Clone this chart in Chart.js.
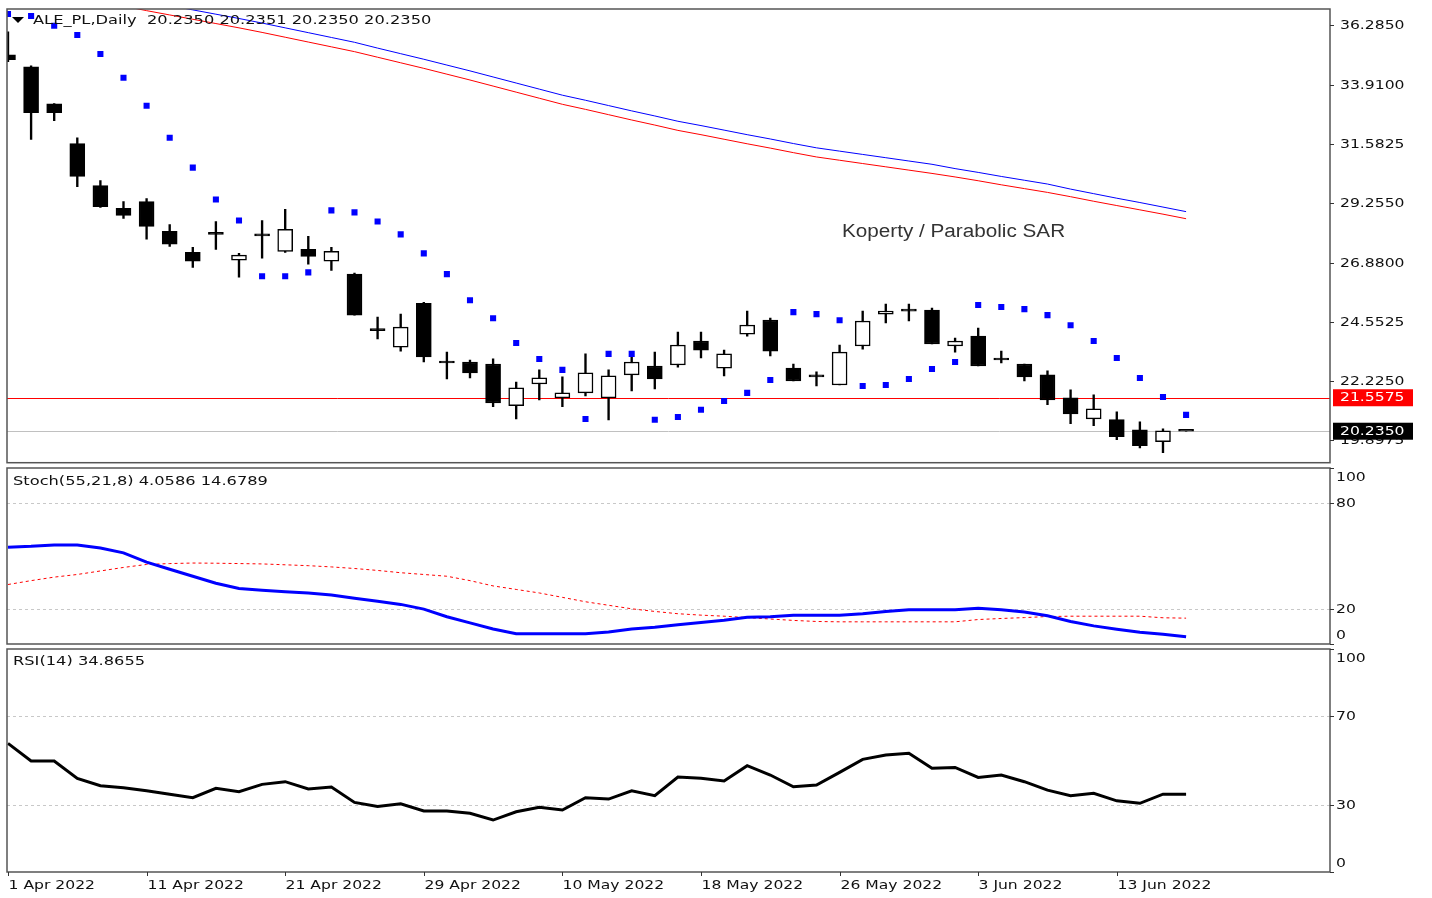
<!DOCTYPE html>
<html>
<head>
<meta charset="utf-8">
<script src="https://cdn.jsdelivr.net/npm/chart.js@4.4.1/dist/chart.umd.min.js"></script>
<style>
html,body{margin:0;padding:0;background:#fff;width:1432px;height:898px;overflow:hidden}
canvas{position:absolute;left:0}
</style>
</head>
<body>
<canvas id="cMain" width="1432" height="467" style="top:0"></canvas>
<canvas id="cStoch" width="1432" height="180" style="top:467px"></canvas>
<canvas id="cRsi" width="1432" height="251" style="top:647px"></canvas>
<script>
// ALE_PL daily, 1 Apr - 17 Jun 2022
const openP  = [35.10,34.63,33.17,31.60,29.94,29.04,29.31,28.13,27.30,28.01,26.99,27.99,27.34,27.42,26.95,26.44,24.25,23.56,25.29,22.93,22.97,22.89,21.24,22.10,21.55,21.75,21.55,22.46,22.81,22.85,23.80,22.73,24.07,24.63,22.73,22.38,22.06,23.60,24.86,24.98,25.02,23.60,23.99,23.05,22.89,22.46,21.55,20.72,20.69,20.29,19.82,20.235];
const highP  = [36.01,34.67,33.18,31.83,30.14,29.31,29.43,28.40,27.50,28.52,27.26,28.56,29.00,27.93,27.50,26.48,24.74,24.86,25.33,23.36,23.05,23.09,22.18,22.66,22.38,23.29,22.66,23.36,23.36,24.15,24.15,23.44,24.98,24.70,22.89,22.58,23.64,24.98,25.26,25.26,25.10,23.91,24.31,23.40,22.89,22.62,21.87,21.67,21.00,20.61,20.33,20.235];
const lowP   = [34.83,31.76,32.50,29.90,29.08,28.64,27.82,27.54,26.71,27.42,26.32,27.07,27.30,26.83,26.59,24.82,23.88,23.40,22.97,22.30,22.34,21.20,20.72,21.47,21.20,21.63,20.68,21.83,21.91,22.77,23.13,22.42,23.99,23.21,22.22,22.02,22.06,23.48,24.51,24.59,23.68,23.36,22.81,22.93,22.22,21.28,20.53,20.45,19.90,19.58,19.39,20.235];
const closeP = [34.91,32.82,32.82,30.30,29.11,28.76,28.33,27.62,26.95,28.01,27.19,27.95,28.21,27.14,27.34,24.82,24.21,24.35,23.17,22.93,22.54,21.35,21.95,22.34,21.75,22.54,22.42,22.97,22.30,23.64,23.44,23.29,24.43,23.40,22.22,22.38,23.36,24.59,24.98,24.98,23.68,23.80,22.81,23.05,22.38,21.47,20.92,21.12,20.02,19.66,20.25,20.235];

const sar = [36.72,36.64,36.25,35.89,35.14,34.20,33.09,31.83,30.65,29.39,28.56,26.36,26.36,26.51,28.96,28.88,28.52,28.01,27.26,26.44,25.41,24.70,23.72,23.09,22.66,20.72,23.29,23.29,20.69,20.80,21.08,21.43,21.75,22.26,24.94,24.86,24.62,22.02,22.06,22.30,22.69,22.97,25.22,25.14,25.06,24.82,24.42,23.80,23.13,22.34,21.59,20.88];

const maRed  = [37.89,37.71,37.55,37.37,37.20,37.03,36.85,36.68,36.51,36.34,36.17,35.99,35.80,35.61,35.42,35.23,35.01,34.79,34.57,34.34,34.11,33.87,33.63,33.39,33.15,32.95,32.74,32.53,32.33,32.12,31.95,31.77,31.59,31.42,31.24,31.07,30.94,30.81,30.68,30.55,30.42,30.28,30.13,29.97,29.82,29.67,29.50,29.32,29.15,28.98,28.81,28.63];
const maBlue = [38.26,38.08,37.92,37.74,37.57,37.40,37.22,37.05,36.88,36.71,36.54,36.36,36.17,35.98,35.79,35.60,35.37,35.15,34.93,34.70,34.47,34.23,33.99,33.75,33.51,33.31,33.10,32.89,32.69,32.48,32.31,32.13,31.95,31.78,31.60,31.43,31.30,31.17,31.04,30.91,30.78,30.61,30.46,30.30,30.15,30.00,29.80,29.62,29.44,29.27,29.09,28.91];

const stochMain   = [55.0,55.5,56.3,56.3,54.5,51.8,46.5,42.5,38.5,34.5,31.5,30.5,29.7,29.0,27.9,26.0,24.3,22.5,19.8,15.5,12.0,8.5,5.8,5.8,5.8,5.8,6.8,8.5,9.5,11.0,12.2,13.5,15.2,15.5,16.4,16.4,16.4,17.2,18.5,19.4,19.4,19.4,20.3,19.4,18.2,16.0,12.8,10.3,8.4,6.7,5.5,4.06];
const stochSignal = [33.8,36.0,38.0,39.5,41.5,43.5,45.2,45.7,46.0,45.9,45.7,45.5,45.0,44.5,43.8,42.9,41.8,40.5,39.5,38.5,36.0,33.0,31.0,29.0,26.5,24.0,22.0,20.0,18.5,17.2,16.4,15.8,15.0,14.2,13.4,12.8,12.6,12.6,12.6,12.6,12.6,12.6,13.9,14.5,15.0,15.6,15.8,15.8,15.8,15.8,14.9,14.68];

const rsi = [57.7,49.8,49.8,42.0,38.7,37.8,36.4,34.9,33.3,37.5,36.0,39.3,40.5,37.2,38.1,31.2,29.4,30.6,27.4,27.4,26.3,23.3,27.0,29.0,27.8,33.3,32.7,36.4,34.2,42.6,42.0,40.8,47.7,43.5,38.2,39.0,44.7,50.5,52.5,53.2,46.5,46.9,42.4,43.5,40.5,36.7,34.2,35.3,31.9,30.8,34.9,34.87];

const priceTicks = [36.2850,33.9100,31.5825,29.2550,26.8800,24.5525,22.2250,19.8975];
const stochTicks = [100,80,20,0];
const rsiTicks = [100,70,30,0];
const dateTickIdx = [0,6,12,18,24,30,36,42,48];
const dateTickText = ['1 Apr 2022','11 Apr 2022','21 Apr 2022','29 Apr 2022','10 May 2022','18 May 2022','26 May 2022','3 Jun 2022','13 Jun 2022'];

const lineLevel = 21.5575;
const bidLevel = 20.2350;
const headMain = 'ALE_PL,Daily  20.2350 20.2351 20.2350 20.2350';
const headStoch = 'Stoch(55,21,8) 4.0586 14.6789';
const headRsi = 'RSI(14) 34.8655';
const note = {text: 'Koperty / Parabolic SAR', x: 36.1, y: 28.09};

const FONT = '13px "DejaVu Sans"';
const SX = 1.2;
const SXHEAD = 1.25;

function txt(ctx, s, x, y, font, color, sx) {
    ctx.save();
    ctx.font = font;
    ctx.fillStyle = color;
    ctx.textBaseline = 'middle';
    ctx.textAlign = 'left';
    ctx.translate(x, y);
    ctx.scale(sx, 1);
    ctx.fillText(s, 0, 0);
    ctx.restore();
}

// draws the MT4 style frame, levels, right scale labels and headers
const mtPanel = {
    id: 'mtPanel',
    beforeDatasetsDraw(chart, args, o) {
        const ctx = chart.ctx, a = chart.chartArea, ys = chart.scales.y;
        ctx.save();
        (o.levels || []).forEach(l => {
            const py = Math.round(ys.getPixelForValue(l.v)) + 0.5;
            ctx.strokeStyle = l.c;
            ctx.lineWidth = 1;
            ctx.setLineDash(l.dash || []);
            ctx.beginPath();
            ctx.moveTo(a.left, py);
            ctx.lineTo(a.right, py);
            ctx.stroke();
        });
        ctx.restore();
    },
    afterDraw(chart, args, o) {
        const ctx = chart.ctx, a = chart.chartArea, ys = chart.scales.y, xs = chart.scales.x;
        ctx.save();
        ctx.strokeStyle = '#555';
        ctx.lineWidth = 1.5;
        ctx.strokeRect(a.left, a.top, a.right - a.left, a.bottom - a.top);
        ctx.lineWidth = 1;
        ctx.strokeStyle = '#333';
        o.ticks.forEach(v => {
            let py = Math.round(ys.getPixelForValue(v)) + 0.5;
            ctx.beginPath();
            ctx.moveTo(a.right, py);
            ctx.lineTo(a.right + 4, py);
            ctx.stroke();
            if (v === ys.max) py += 9;
            if (v === ys.min) py -= 9;
            txt(ctx, o.fmt(v), a.right + o.labelGap, py, FONT, '#111', SX);
        });
        (o.boxes || []).forEach(b => {
            const py = ys.getPixelForValue(b.v);
            ctx.fillStyle = b.bg;
            ctx.fillRect(a.right + 3, py - 8.5, 80, 17);
            txt(ctx, o.fmt(b.v), a.right + 10, py, FONT, '#fff', SX);
        });
        if (o.dates) {
            dateTickIdx.forEach((idx, k) => {
                const px = Math.round(xs.getPixelForValue(idx)) + 0.5;
                ctx.beginPath();
                ctx.moveTo(px, a.bottom);
                ctx.lineTo(px, a.bottom + 4);
                ctx.stroke();
                txt(ctx, dateTickText[k], px, a.bottom + 14, FONT, '#111', SX);
            });
        }
        if (o.triangle) {
            ctx.fillStyle = '#000';
            ctx.beginPath();
            ctx.moveTo(12, 17);
            ctx.lineTo(24, 17);
            ctx.lineTo(18, 23);
            ctx.closePath();
            ctx.fill();
        }
        txt(ctx, o.head, o.headX, a.top + o.headY, FONT, '#111', SXHEAD);
        if (o.note) {
            txt(ctx, o.note.text, xs.getPixelForValue(o.note.x), ys.getPixelForValue(o.note.y),
                '18px "Liberation Sans"', '#333', 1.15);
        }
        ctx.restore();
    }
};

const xOpts = {type: 'linear', min: -0.043, max: 57.23, display: false, offset: false};
const pts = arr => arr.map((v, i) => ({x: i, y: v}));
const baseOpts = {
    responsive: false,
    animation: false,
    events: [],
};

new Chart(document.getElementById('cMain'), {
    type: 'bar',
    data: {
        datasets: [
            {
                type: 'line', data: pts(sar), showLine: false,
                pointStyle: 'rect', pointRadius: 4.3, pointBackgroundColor: '#0000ff',
                pointBorderWidth: 0, order: 0
            },
            {
                type: 'bar', data: openP.map((o, i) => ({x: i, y: [o, closeP[i]]})),
                backgroundColor: openP.map((o, i) => closeP[i] > o ? '#ffffff' : '#000000'),
                borderColor: '#000', borderWidth: 1.5, borderSkipped: false,
                barThickness: 15, minBarLength: 2, grouped: false, order: 1
            },
            {
                type: 'bar', data: lowP.map((l, i) => ({x: i, y: [l, highP[i]]})),
                backgroundColor: '#000', barThickness: 1.7, grouped: false, order: 2
            },
            {type: 'line', data: pts(maBlue), borderColor: '#0000ff', borderWidth: 1, pointRadius: 0, order: 3},
            {type: 'line', data: pts(maRed), borderColor: '#ff0000', borderWidth: 1, pointRadius: 0, order: 3}
        ]
    },
    options: {
        ...baseOpts,
        layout: {padding: {left: 7, right: 102, top: 9, bottom: 3}},
        scales: {
            x: xOpts,
            y: {type: 'linear', min: 18.9914, max: 36.915, display: false}
        },
        plugins: {
            legend: {display: false},
            tooltip: {enabled: false},
            mtPanel: {
                ticks: priceTicks, fmt: v => v.toFixed(4), labelGap: 10,
                levels: [{v: bidLevel, c: '#c0c0c0'}, {v: lineLevel, c: '#ff0000'}],
                boxes: [{v: lineLevel, bg: '#ff0000'}, {v: bidLevel, bg: '#000000'}],
                head: headMain, headX: 33, headY: 12, triangle: true, note: note
            }
        }
    },
    plugins: [mtPanel]
});

new Chart(document.getElementById('cStoch'), {
    type: 'line',
    data: {
        datasets: [
            {data: pts(stochMain), borderColor: '#0000ff', borderWidth: 3, pointRadius: 0},
            {data: pts(stochSignal), borderColor: '#ff0000', borderWidth: 1, borderDash: [3, 3], pointRadius: 0}
        ]
    },
    options: {
        ...baseOpts,
        layout: {padding: {left: 7, right: 102, top: 1, bottom: 3}},
        scales: {x: xOpts, y: {type: 'linear', min: 0, max: 100, display: false}},
        plugins: {
            legend: {display: false},
            tooltip: {enabled: false},
            mtPanel: {
                ticks: stochTicks, fmt: v => String(v), labelGap: 6,
                levels: [{v: 80, c: '#c8c8c8', dash: [3, 3]}, {v: 20, c: '#c8c8c8', dash: [3, 3]}],
                head: headStoch, headX: 13, headY: 14
            }
        }
    },
    plugins: [mtPanel]
});

new Chart(document.getElementById('cRsi'), {
    type: 'line',
    data: {
        datasets: [
            {data: pts(rsi), borderColor: '#000000', borderWidth: 3, pointRadius: 0}
        ]
    },
    options: {
        ...baseOpts,
        layout: {padding: {left: 7, right: 102, top: 2, bottom: 26}},
        scales: {x: xOpts, y: {type: 'linear', min: 0, max: 100, display: false}},
        plugins: {
            legend: {display: false},
            tooltip: {enabled: false},
            mtPanel: {
                ticks: rsiTicks, fmt: v => String(v), labelGap: 6,
                levels: [{v: 70, c: '#c8c8c8', dash: [3, 3]}, {v: 30, c: '#c8c8c8', dash: [3, 3]}],
                head: headRsi, headX: 13, headY: 13, dates: true
            }
        }
    },
    plugins: [mtPanel]
});
</script>
</body>
</html>
